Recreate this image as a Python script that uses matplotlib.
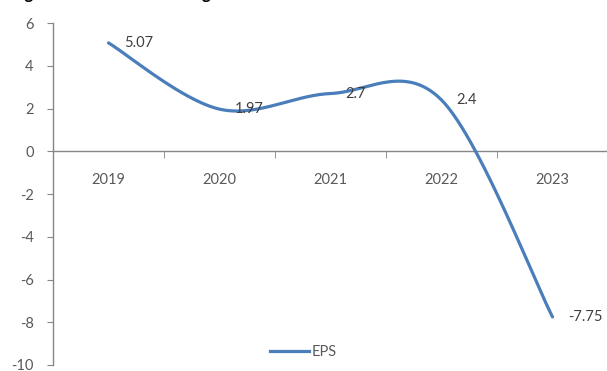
import numpy as np
import matplotlib
matplotlib.use("Agg")
import matplotlib.pyplot as plt
from matplotlib.lines import Line2D

plt.rcParams['font.family'] = ['Lato', 'DejaVu Sans']

years = ['2019', '2020', '2021', '2022', '2023']
eps = [5.07, 1.97, 2.7, 2.4, -7.75]
y_ticks = [6, 4, 2, 0, -2, -4, -6, -8, -10]

W, H = 607, 371
fig = plt.figure(figsize=(W / 100, H / 100), dpi=100)
ax = fig.add_axes([53 / W, 1 - 365 / H, 555 / W, (365 - 23) / H])

line_color = '#4A7EBB'
axis_color = '#868686'
text_color = '#595959'
label_color = '#404040'


def smooth_curve(xs, ys, n=60):
    """Smoothed line through the points using cubic Bezier segments
    with Catmull-Rom style control points."""
    p = np.column_stack([xs, ys]).astype(float)
    pts = np.vstack([p[0], p, p[-1]])
    out = []
    for i in range(1, len(pts) - 2):
        p0, p1, p2, p3 = pts[i - 1], pts[i], pts[i + 1], pts[i + 2]
        c1 = p1 + (p2 - p0) / 6.0
        c2 = p2 - (p3 - p1) / 6.0
        t = np.linspace(0, 1, n)[:, None]
        seg = ((1 - t) ** 3) * p1 + 3 * ((1 - t) ** 2) * t * c1 \
            + 3 * (1 - t) * t ** 2 * c2 + t ** 3 * p2
        out.append(seg if i == 1 else seg[1:])
    return np.vstack(out)


x = np.arange(len(years))
curve = smooth_curve(x, eps)
ax.plot(curve[:, 0], curve[:, 1], color=line_color, lw=2.3,
        solid_capstyle='round', zorder=3)

# value labels to the right of each point
for xi, v in zip(x, eps):
    ax.annotate(f'{v:g}', (xi, v), xytext=(11, 0), textcoords='offset points',
                ha='left', va='center', fontsize=10.5, color=label_color)

ax.set_xlim(-0.5, len(years) - 0.5)
ax.set_ylim(min(y_ticks), max(y_ticks))

# axes styling
for s in ['top', 'right']:
    ax.spines[s].set_visible(False)
ax.spines['left'].set_color(axis_color)
ax.spines['bottom'].set_color(axis_color)
ax.spines['bottom'].set_position(('data', 0))
ax.spines['left'].set_linewidth(1.0)
ax.spines['bottom'].set_linewidth(1.0)

ax.set_yticks(y_ticks)
ax.set_yticklabels([str(t) for t in y_ticks])
ax.tick_params(axis='y', direction='out', length=4, color=axis_color,
               labelsize=10.5, labelcolor=text_color, pad=10)

ax.set_xticks(x)
ax.set_xticklabels(years)
ax.set_xticks(np.arange(0.5, len(years) - 0.5, 1), minor=True)
ax.tick_params(axis='x', which='major', length=0, labelsize=10.5,
               labelcolor=text_color, pad=16)
ax.tick_params(axis='x', which='minor', direction='out', length=5,
               color=axis_color)

# legend at the bottom
handle = Line2D([], [], color=line_color, lw=2.3)
fig.legend([handle], ['EPS'], loc='center', bbox_to_anchor=(303 / W, 1 - 352 / H),
           frameon=False, fontsize=10.5, handlelength=2.7, handletextpad=0.15,
           labelcolor=text_color)

# figure caption above the chart (only its lowest strokes fall inside)
fig.text(11 / W, 1 + 1.5 / H, 'Figure 4: Total EPS Earnings', fontsize=12,
         fontweight='bold', color='black', ha='left', va='baseline')

fig.savefig('out.png', dpi=100)
